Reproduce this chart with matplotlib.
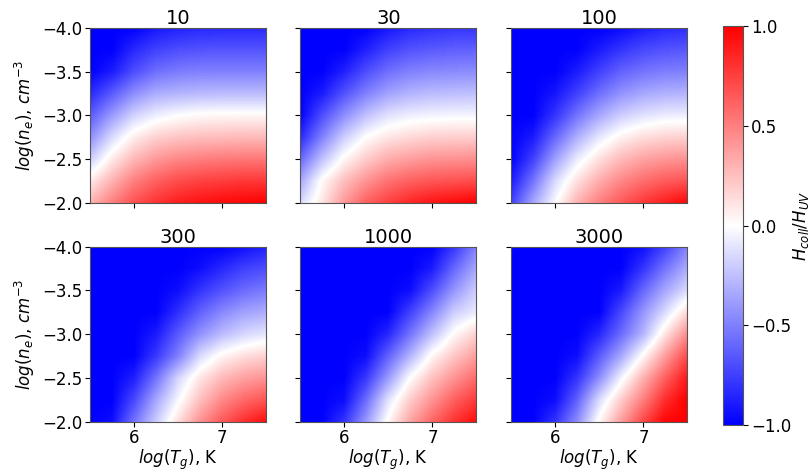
import numpy as np
import matplotlib
matplotlib.use("Agg")
import matplotlib.pyplot as plt

# ── Data ─────────────────────────────────────────────────────────────────────
# grid nodes: log(T_g) along columns, log(n_e) along rows (top row = -4.0)
log_tg = [5.5, 5.75, 6.0, 6.25, 6.5, 6.75, 7.0, 7.25, 7.5]
log_ne = [-4.0, -3.75, -3.5, -3.25, -3.0, -2.75, -2.5, -2.25, -2.0]

panel_titles = ["10", "30", "100", "300", "1000", "3000"]

ratio_10 = [
    [-1.00, -1.00, -1.00, -0.92, -0.88, -0.85, -0.85, -0.85, -0.85],
    [-1.00, -1.00, -0.85, -0.75, -0.70, -0.68, -0.67, -0.67, -0.67],
    [-1.00, -0.90, -0.70, -0.57, -0.52, -0.50, -0.50, -0.50, -0.50],
    [-0.85, -0.65, -0.45, -0.33, -0.30, -0.28, -0.27, -0.27, -0.27],
    [-0.65, -0.40, -0.18, -0.07, -0.01, 0.02, 0.03, 0.03, 0.03],
    [-0.45, -0.15, 0.07, 0.18, 0.23, 0.25, 0.26, 0.27, 0.27],
    [-0.20, 0.08, 0.28, 0.40, 0.47, 0.50, 0.52, 0.53, 0.53],
    [0.08, 0.30, 0.50, 0.62, 0.70, 0.74, 0.76, 0.78, 0.78],
    [0.30, 0.50, 0.68, 0.80, 0.88, 0.93, 0.96, 0.98, 1.00],
]

ratio_30 = [
    [-1.00, -1.00, -1.00, -1.00, -0.92, -0.85, -0.82, -0.80, -0.80],
    [-1.00, -1.00, -1.00, -0.88, -0.75, -0.68, -0.65, -0.63, -0.62],
    [-1.00, -1.00, -0.88, -0.70, -0.57, -0.50, -0.47, -0.46, -0.45],
    [-1.00, -0.90, -0.68, -0.50, -0.37, -0.30, -0.27, -0.26, -0.25],
    [-1.00, -0.70, -0.45, -0.25, -0.12, -0.07, -0.05, -0.04, -0.04],
    [-0.85, -0.50, -0.20, 0.00, 0.10, 0.15, 0.18, 0.19, 0.19],
    [-0.60, -0.25, 0.03, 0.20, 0.32, 0.38, 0.42, 0.43, 0.44],
    [-0.35, 0.02, 0.25, 0.42, 0.55, 0.62, 0.66, 0.68, 0.70],
    [-0.15, 0.10, 0.40, 0.62, 0.75, 0.85, 0.92, 0.96, 1.00],
]

ratio_100 = [
    [-1.00, -1.00, -1.00, -1.00, -1.00, -0.97, -0.90, -0.85, -0.83],
    [-1.00, -1.00, -1.00, -1.00, -0.90, -0.80, -0.72, -0.68, -0.66],
    [-1.00, -1.00, -1.00, -0.90, -0.75, -0.62, -0.55, -0.51, -0.50],
    [-1.00, -1.00, -0.92, -0.75, -0.57, -0.43, -0.35, -0.31, -0.30],
    [-1.00, -1.00, -0.80, -0.55, -0.35, -0.20, -0.12, -0.08, -0.07],
    [-1.00, -0.90, -0.60, -0.32, -0.10, 0.05, 0.13, 0.17, 0.18],
    [-1.00, -0.75, -0.38, -0.08, 0.12, 0.27, 0.36, 0.41, 0.43],
    [-0.90, -0.55, -0.15, 0.12, 0.32, 0.47, 0.57, 0.64, 0.67],
    [-0.75, -0.35, -0.02, 0.30, 0.50, 0.65, 0.78, 0.88, 0.98],
]

ratio_300 = [
    [-1.00, -1.00, -1.00, -1.00, -1.00, -1.00, -1.00, -0.95, -0.88],
    [-1.00, -1.00, -1.00, -1.00, -1.00, -0.95, -0.85, -0.75, -0.70],
    [-1.00, -1.00, -1.00, -1.00, -0.95, -0.80, -0.68, -0.58, -0.52],
    [-1.00, -1.00, -1.00, -1.00, -0.82, -0.62, -0.47, -0.37, -0.32],
    [-1.00, -1.00, -1.00, -0.90, -0.65, -0.43, -0.27, -0.16, -0.10],
    [-1.00, -1.00, -1.00, -0.78, -0.50, -0.15, 0.04, 0.13, 0.18],
    [-1.00, -1.00, -0.88, -0.55, -0.17, 0.10, 0.27, 0.37, 0.43],
    [-1.00, -1.00, -0.72, -0.35, -0.03, 0.25, 0.46, 0.59, 0.67],
    [-1.00, -0.95, -0.55, -0.20, 0.13, 0.43, 0.65, 0.82, 0.95],
]

ratio_1000 = [
    [-1.00, -1.00, -1.00, -1.00, -1.00, -1.00, -1.00, -0.80, -0.50],
    [-1.00, -1.00, -1.00, -1.00, -1.00, -1.00, -0.90, -0.60, -0.35],
    [-1.00, -1.00, -1.00, -1.00, -1.00, -0.95, -0.70, -0.42, -0.20],
    [-1.00, -1.00, -1.00, -1.00, -1.00, -0.75, -0.48, -0.20, -0.08],
    [-1.00, -1.00, -1.00, -1.00, -0.85, -0.55, -0.25, 0.02, 0.18],
    [-1.00, -1.00, -1.00, -0.95, -0.62, -0.30, 0.03, 0.22, 0.38],
    [-1.00, -1.00, -1.00, -0.78, -0.40, 0.00, 0.24, 0.42, 0.58],
    [-1.00, -1.00, -0.95, -0.58, -0.12, 0.20, 0.42, 0.62, 0.77],
    [-1.00, -1.00, -0.80, -0.40, 0.03, 0.35, 0.60, 0.80, 0.95],
]

ratio_3000 = [
    [-1.00, -1.00, -1.00, -1.00, -1.00, -1.00, -0.95, -0.75, -0.50],
    [-1.00, -1.00, -1.00, -1.00, -1.00, -1.00, -0.80, -0.55, -0.33],
    [-1.00, -1.00, -1.00, -1.00, -1.00, -0.90, -0.60, -0.35, -0.15],
    [-1.00, -1.00, -1.00, -1.00, -1.00, -0.72, -0.42, -0.15, 0.15],
    [-1.00, -1.00, -1.00, -1.00, -0.85, -0.58, -0.30, 0.10, 0.45],
    [-1.00, -1.00, -1.00, -0.95, -0.65, -0.35, 0.02, 0.38, 0.70],
    [-1.00, -1.00, -1.00, -0.80, -0.45, -0.05, 0.30, 0.62, 0.90],
    [-1.00, -1.00, -0.95, -0.62, -0.15, 0.20, 0.50, 0.82, 1.00],
    [-1.00, -1.00, -0.80, -0.45, 0.03, 0.38, 0.72, 0.98, 1.00],
]

panels = [ratio_10, ratio_30, ratio_100, ratio_300, ratio_1000, ratio_3000]

# ── Figure ───────────────────────────────────────────────────────────────────
fig = plt.figure(figsize=(8.11, 4.72), dpi=100)

col_left = [0.111, 0.3705, 0.6307]
row_bottom = [0.570, 0.1066]
w, h = 0.217, 0.3708

# half a grid step, so that each value sits on its node
dx = (log_tg[1] - log_tg[0]) / 2
dy = (log_ne[1] - log_ne[0]) / 2
extent = [log_tg[0] - dx, log_tg[-1] + dx, log_ne[-1] + dy, log_ne[0] - dy]

img = None
for i, (vals, title) in enumerate(zip(panels, panel_titles)):
    r, c = divmod(i, 3)
    ax = fig.add_axes([col_left[c], row_bottom[r], w, h])
    img = ax.imshow(np.array(vals), cmap="bwr", vmin=-1, vmax=1,
                    extent=extent, interpolation="bilinear", aspect="auto")
    ax.set_xlim(5.5, 7.5)
    ax.set_ylim(-2.0, -4.0)
    ax.set_xticks([6, 7])
    ax.set_yticks([-4.0, -3.5, -3.0, -2.5, -2.0])
    ax.tick_params(labelsize=12, pad=2)
    ax.set_title(title, fontsize=14, pad=3)
    for sp in ax.spines.values():
        sp.set_color("#555555")
    if c == 0:
        ax.set_ylabel(r"$log(n_e)$, $cm^{-3}$", fontsize=12)
    else:
        ax.tick_params(labelleft=False)
    if r == 1:
        ax.set_xlabel(r"$log(T_g)$, K", fontsize=12, labelpad=0)
    else:
        ax.tick_params(labelbottom=False)

cax = fig.add_axes([0.891, 0.0996, 0.0254, 0.845])
cb = fig.colorbar(img, cax=cax, ticks=[-1.0, -0.5, 0.0, 0.5, 1.0])
cb.ax.tick_params(labelsize=12, pad=2)
cb.outline.set_edgecolor("#555555")
cb.set_label(r"$H_{coll}/H_{UV}$", fontsize=12, labelpad=0)

fig.savefig("out.png", dpi=100)
